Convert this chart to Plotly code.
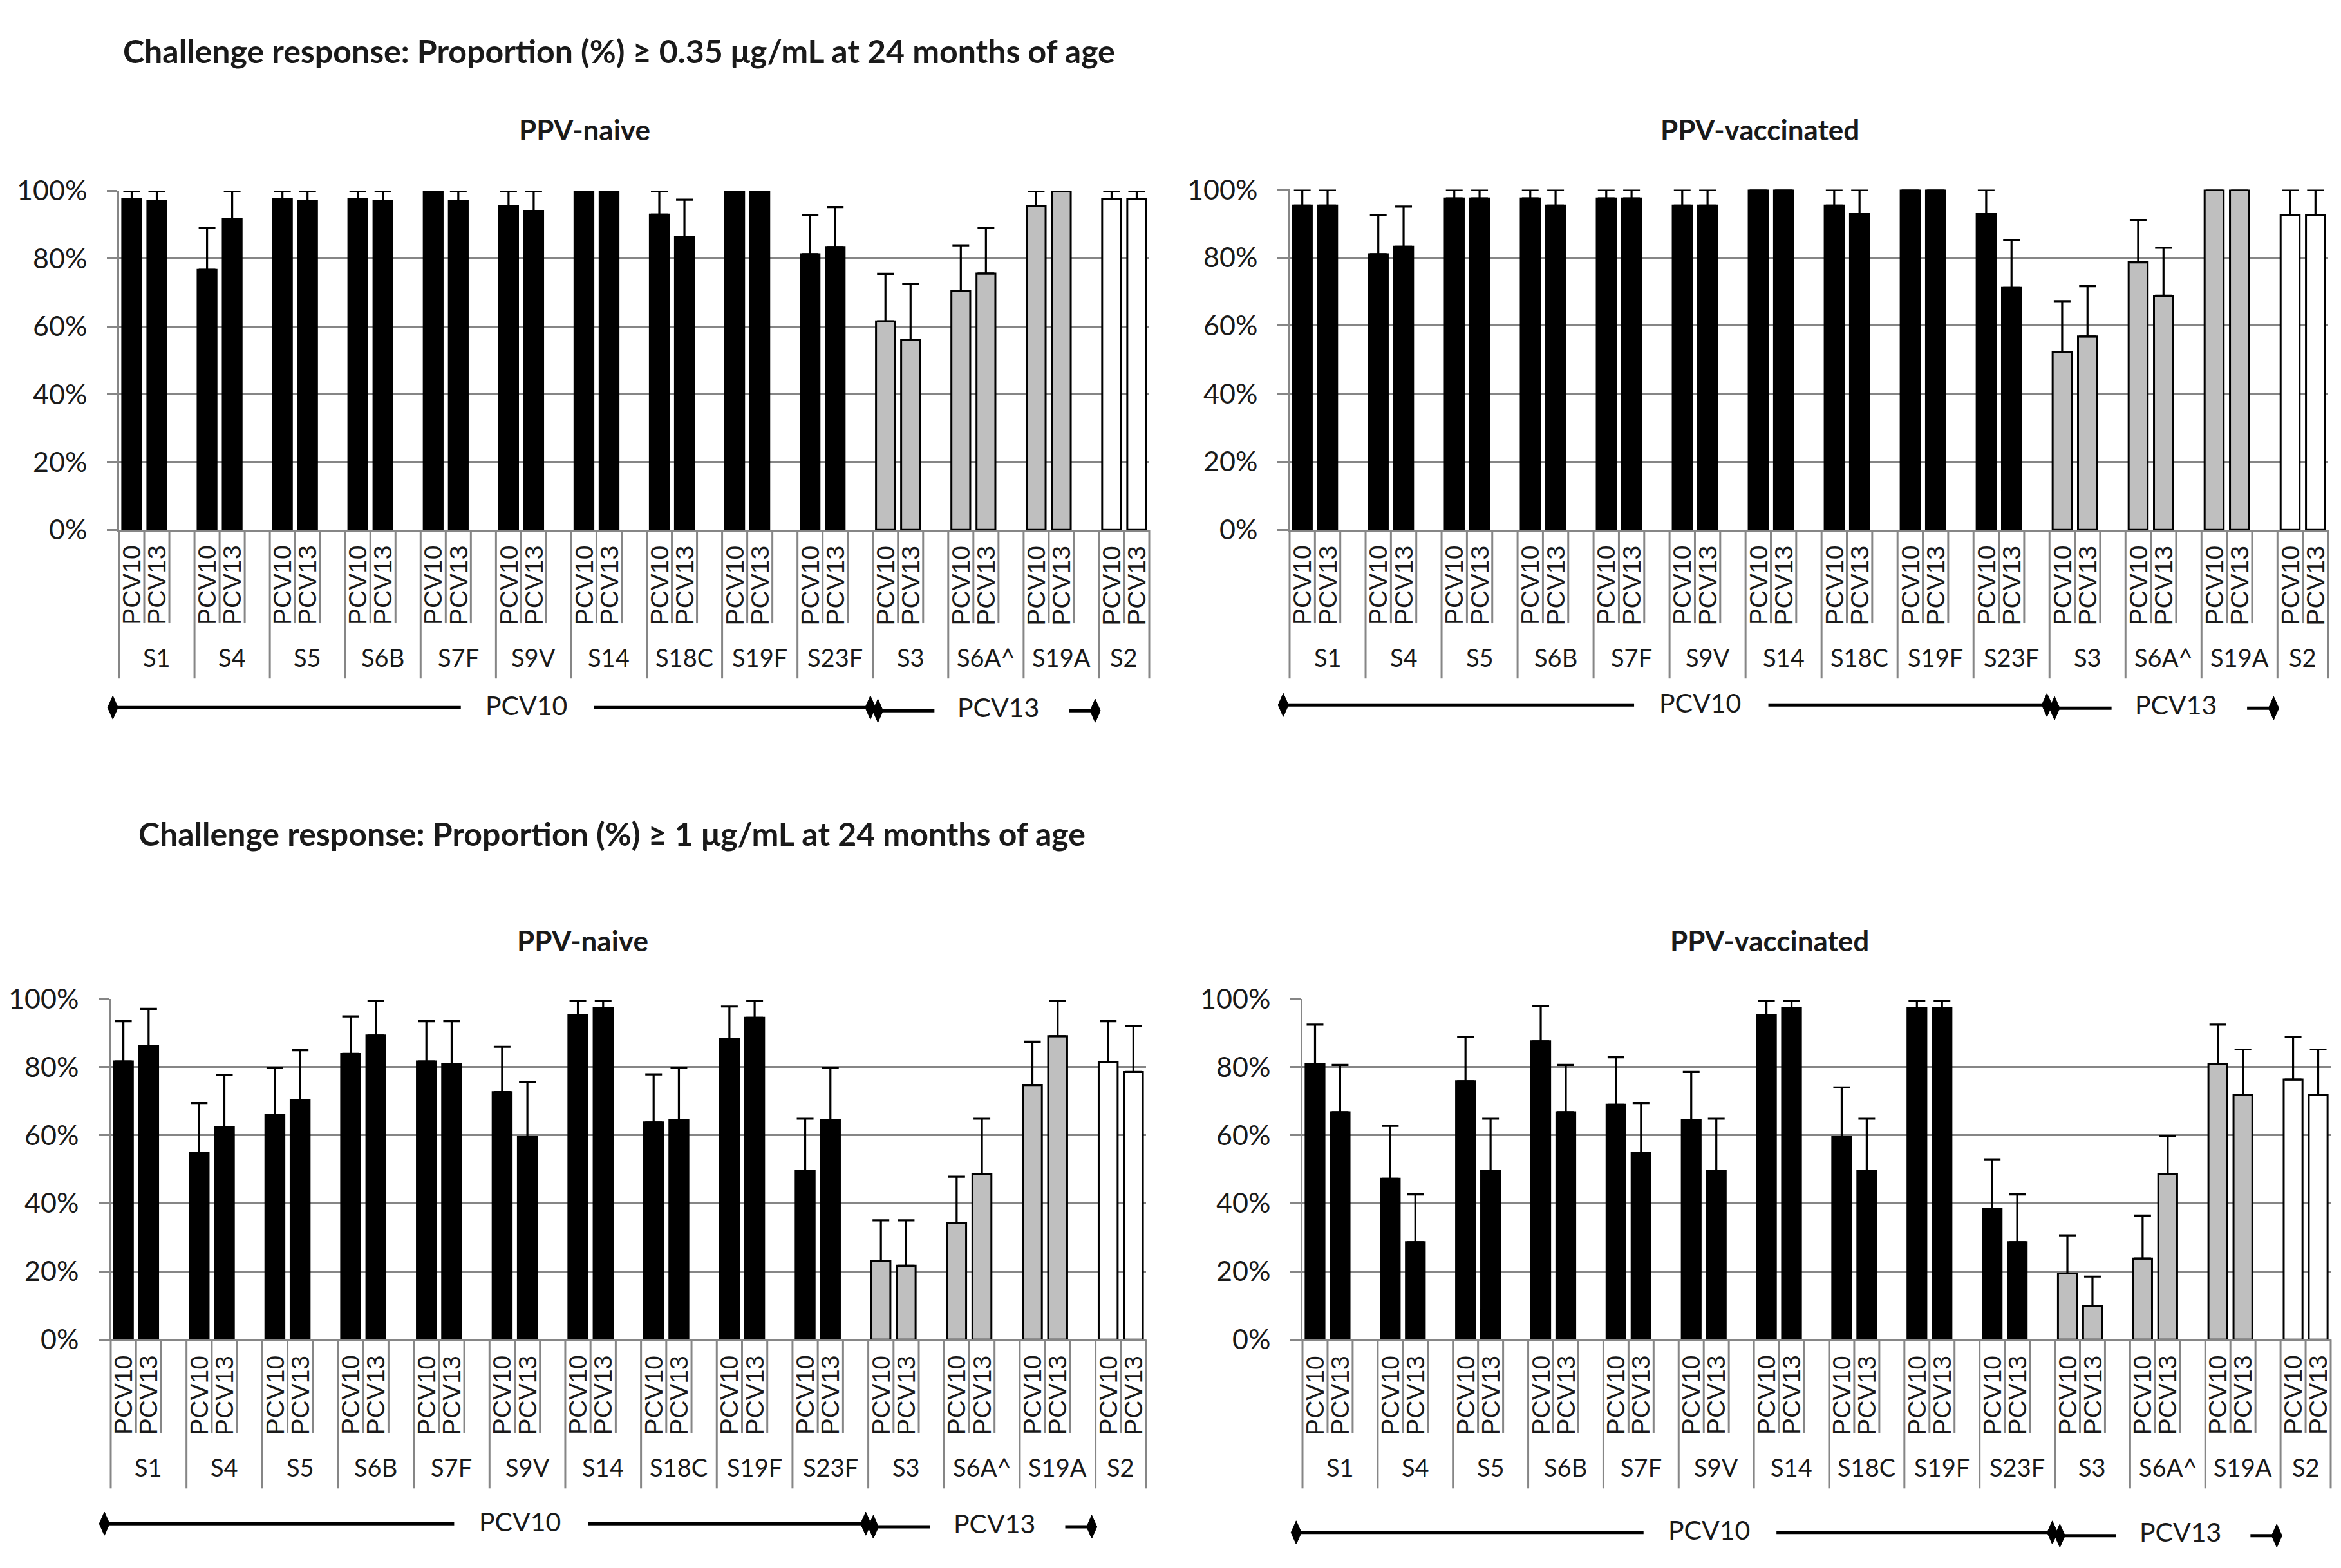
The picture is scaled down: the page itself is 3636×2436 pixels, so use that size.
import plotly.graph_objects as go

W, H = 3636, 2436

serotypes = ["S1", "S4", "S5", "S6B", "S7F", "S9V", "S14", "S18C", "S19F", "S23F", "S3", "S6A^", "S19A", "S2"]
vaccines = ["PCV10", "PCV13"]
group_colors = ["#000000"] * 10 + ["#BFBFBF"] * 3 + ["#FFFFFF"]

# Panel A: >= 0.35 ug/mL, PPV-naive
a_pcv10 = [97.7, 76.7, 97.7, 97.7, 100, 95.6, 100, 93.0, 100, 81.3, 61.5, 70.5, 95.5, 97.7]
a_pcv10_up = [100, 89.1, 100, 100, 100, 100, 100, 100, 100, 92.8, 75.5, 83.9, 100, 100]
a_pcv13 = [97.0, 91.7, 97.0, 97.0, 97.0, 94.1, 100, 86.5, 100, 83.4, 56.0, 75.6, 100, 97.7]
a_pcv13_up = [100, 100, 100, 100, 100, 100, 100, 97.4, 100, 95.2, 72.6, 89.0, 100, 100]

# Panel B: >= 0.35 ug/mL, PPV-vaccinated
b_pcv10 = [95.3, 81.0, 97.4, 97.4, 97.4, 95.3, 100, 95.3, 100, 92.8, 52.2, 78.6, 100, 92.5]
b_pcv10_up = [100, 92.5, 100, 100, 100, 100, 100, 100, 100, 100, 67.2, 91.1, 100, 100]
b_pcv13 = [95.3, 83.2, 97.4, 95.3, 97.4, 95.3, 100, 92.8, 100, 71.1, 56.8, 68.8, 100, 92.5]
b_pcv13_up = [100, 95.0, 100, 100, 100, 100, 100, 100, 100, 85.2, 71.6, 82.9, 100, 100]

# Panel C: >= 1 ug/mL, PPV-naive
c_pcv10 = [81.6, 54.7, 65.9, 83.8, 81.6, 72.6, 95.1, 63.7, 88.2, 49.5, 23.1, 34.3, 74.7, 81.5]
c_pcv10_up = [93.4, 69.4, 79.8, 94.8, 93.4, 85.9, 99.4, 77.8, 97.7, 64.8, 35.0, 47.8, 87.4, 93.4]
c_pcv13 = [86.1, 62.4, 70.3, 89.2, 80.8, 59.4, 97.3, 64.4, 94.4, 64.4, 21.7, 48.6, 89.0, 78.5]
c_pcv13_up = [97.0, 77.6, 84.9, 99.4, 93.4, 75.5, 99.4, 79.8, 99.4, 79.8, 35.0, 64.8, 99.4, 92.0]

# Panel D: >= 1 ug/mL, PPV-vaccinated
d_pcv10 = [80.8, 47.2, 75.8, 87.5, 68.9, 64.4, 95.1, 59.4, 97.3, 38.3, 19.4, 23.8, 80.8, 76.3]
d_pcv10_up = [92.4, 62.7, 88.8, 97.8, 82.8, 78.5, 99.4, 74.0, 99.4, 52.9, 30.6, 36.4, 92.4, 88.8]
d_pcv13 = [66.7, 28.6, 49.5, 66.7, 54.7, 49.5, 97.3, 49.5, 97.3, 28.6, 9.9, 48.6, 71.7, 71.7]
d_pcv13_up = [80.6, 42.6, 64.8, 80.6, 69.4, 64.8, 99.4, 64.8, 99.4, 42.6, 18.5, 59.7, 85.1, 85.1]

title_top = "Challenge response: Proportion (%) ≥ 0.35 μg/mL at 24 months of age"
title_bottom = "Challenge response: Proportion (%) ≥ 1 μg/mL at 24 months of age"
panel_titles = ["PPV-naive", "PPV-vaccinated", "PPV-naive", "PPV-vaccinated"]
y_ticks = [0, 20, 40, 60, 80, 100]
group_labels = ["PCV10", "PCV13"]

# ---------------- layout geometry (pixels of the 3636x2436 page) -------------
def px(x):
    return x / W

def py(y):
    return 1 - y / H

# plot boxes: left, right, top(100%), bottom(0%)
boxes = [
    (177, 1777, 267, 805),
    (1995, 3608, 265, 805),
    (164, 1772, 1549, 2090),
    (2015, 3612, 1549, 2090),
]
panel_title_pos = [(900, 170), (2725, 170), (897, 1457), (2740, 1457)]
arrow_offsets = [282, 278, 292, 306]

GRID = "#868686"
TXT = "#1a1a1a"
FONT = "Lato"

panels = [
    (a_pcv10, a_pcv10_up, a_pcv13, a_pcv13_up),
    (b_pcv10, b_pcv10_up, b_pcv13, b_pcv13_up),
    (c_pcv10, c_pcv10_up, c_pcv13, c_pcv13_up),
    (d_pcv10, d_pcv10_up, d_pcv13, d_pcv13_up),
]

n_groups = len(serotypes)
n_cats = 3 * (n_groups - 1) + 2

fig = go.Figure()
shapes = []
annotations = []

for p, (v10, u10, v13, u13) in enumerate(panels):
    ax = "" if p == 0 else str(p + 1)
    xref, yref = "x" + ax, "y" + ax
    for k, (vals, ups) in enumerate([(v10, u10), (v13, u13)]):
        xs = [3 * g + k for g in range(n_groups)]
        plus = [max(u - v, 0) for u, v in zip(ups, vals)]
        fig.add_trace(go.Bar(
            x=xs, y=vals, width=0.75,
            marker=dict(color=group_colors, line=dict(color="#000000", width=3)),
            error_y=dict(type="data", symmetric=False, array=plus,
                         arrayminus=[0] * len(vals), color="#000000",
                         thickness=3.2, width=13),
            name=vaccines[k], showlegend=False, cliponaxis=False,
            xaxis=xref, yaxis=yref,
        ))

    L, R, T, B = boxes[p]
    cw = (R - L) / n_cats

    def cx(d, L=L, cw=cw):
        # paper x of a category-axis position d (category i centred at i)
        return px(L + (d + 0.5) * cw)

    fig.layout["xaxis" + ax] = dict(
        domain=[px(L), px(R)], range=[-0.5, n_cats - 0.5], anchor=yref,
        showticklabels=False, showgrid=False, zeroline=False, ticks="",
        showline=True, linecolor=GRID, linewidth=3, fixedrange=True,
    )
    fig.layout["yaxis" + ax] = dict(
        domain=[py(B), py(T)], range=[0, 100], anchor=xref,
        tickvals=y_ticks, ticktext=[f"{t}%" for t in y_ticks],
        showgrid=True, gridcolor=GRID, gridwidth=3,
        showline=True, linecolor=GRID, linewidth=3,
        ticks="outside", ticklen=16, tickwidth=3, tickcolor=GRID,
        ticklabelstandoff=22, zeroline=False,
        tickfont=dict(family=FONT, size=43, color=TXT), fixedrange=True,
    )

    # multi-level category axis: separators
    bounds = []
    for g in range(n_groups):
        base = 3 * g - 0.5
        bounds.append((base, 236))
        bounds.append((base + 1, 148))
        if g < n_groups - 1:
            bounds.append((base + 2, 148))
    bounds.append((n_cats - 0.5, 236))
    for bx, ln in bounds:
        shapes.append(dict(type="line", xref="paper", yref="paper",
                           x0=cx(bx), x1=cx(bx), y0=py(B), y1=py(B + ln),
                           line=dict(color=GRID, width=3)))

    # inner labels (rotated) and group labels
    for g in range(n_groups):
        for k in range(2):
            annotations.append(dict(
                x=3 * g + k, y=py(B + 88), xref=xref, yref="paper",
                text=vaccines[k], textangle=-90, showarrow=False,
                font=dict(family="Liberation Sans", size=39, color=TXT),
                xanchor="center", yanchor="middle"))
        gc = 3 * g + (1 if g < n_groups - 1 else 0.5)
        annotations.append(dict(
            x=gc, y=py(B + 202), xref=xref, yref="paper", text=serotypes[g],
            showarrow=False, font=dict(family=FONT, size=38, color=TXT),
            xanchor="center", yanchor="middle"))

    # vaccine bracket arrows below the axis
    ay = B + arrow_offsets[p]
    ay2 = ay + 5
    seg = [(-0.75, 13.1, ay), (18.4, 29.45, ay), (29.65, 31.95, ay2), (37.3, 38.35, ay2)]
    for x0, x1, yy in seg:
        shapes.append(dict(type="line", xref="paper", yref="paper",
                           x0=cx(x0), x1=cx(x1), y0=py(yy), y1=py(yy),
                           line=dict(color="#000000", width=5)))
    for dx, yy in [(-0.75, ay), (29.4, ay), (29.7, ay2), (38.35, ay2)]:
        shapes.append(dict(type="path", xref="paper", yref="paper",
                           xsizemode="pixel", ysizemode="pixel",
                           xanchor=cx(dx), yanchor=py(yy),
                           path="M 0 18 L 8 0 L 0 -18 L -8 0 Z",
                           fillcolor="#000000", line=dict(color="#000000", width=1)))
    annotations.append(dict(x=cx(15.7), y=py(ay - 4), xref="paper", yref="paper",
                            text=group_labels[0], showarrow=False,
                            xanchor="center", yanchor="middle",
                            font=dict(family=FONT, size=41, color=TXT)))
    annotations.append(dict(x=cx(34.5), y=py(ay2 - 6), xref="paper", yref="paper",
                            text=group_labels[1], showarrow=False,
                            xanchor="center", yanchor="middle",
                            font=dict(family=FONT, size=41, color=TXT)))

    # panel titles
    tx, ty = panel_title_pos[p]
    annotations.append(dict(x=px(tx), y=py(ty), xref="paper", yref="paper",
                            text="<b>" + panel_titles[p] + "</b>", showarrow=False,
                            font=dict(family=FONT, size=44, color=TXT),
                            xanchor="center", yanchor="middle"))

annotations.append(dict(x=px(181), y=py(45), xref="paper", yref="paper",
                        text="<b>" + title_top + "</b>", showarrow=False,
                        font=dict(family=FONT, size=50, color=TXT),
                        xanchor="left", yanchor="middle"))
annotations.append(dict(x=px(205), y=py(1287), xref="paper", yref="paper",
                        text="<b>" + title_bottom + "</b>", showarrow=False,
                        font=dict(family=FONT, size=50, color=TXT),
                        xanchor="left", yanchor="middle"))

fig.update_layout(
    width=W, height=H, autosize=False,
    margin=dict(l=0, r=0, t=0, b=0),
    paper_bgcolor="white", plot_bgcolor="white",
    barmode="overlay", showlegend=False,
    shapes=shapes, annotations=annotations,
    font=dict(family=FONT, color=TXT),
)

fig.write_html("out.html")
